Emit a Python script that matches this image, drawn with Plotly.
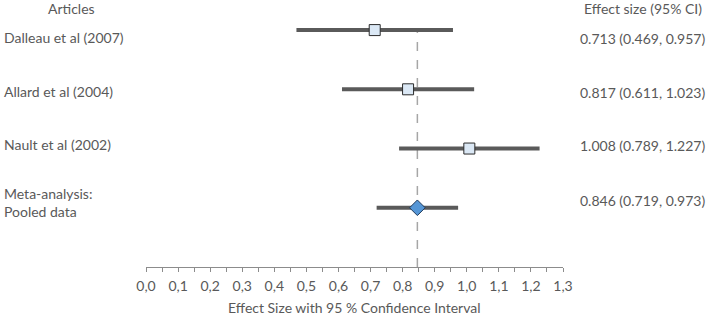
import plotly.graph_objects as go

articles = ["Dalleau et al (2007)", "Allard et al (2004)", "Nault et al (2002)"]
effects = [0.713, 0.817, 1.008]
lowers = [0.469, 0.611, 0.789]
uppers = [0.957, 1.023, 1.227]
pooled_label = "Meta-analysis:<br>Pooled data"
pooled_effect = 0.846
pooled_lower = 0.719
pooled_upper = 0.973
tick_vals = [round(i * 0.1, 1) for i in range(14)]
tick_text = [f"{v:.1f}".replace(".", ",") for v in tick_vals]

GREY = "#595959"
FONT = "Lato"
FS = 14

rows = [4, 3, 2]
pooled_row = 1

fig = go.Figure()
fig.add_trace(go.Scatter(
    x=effects, y=rows, mode="markers",
    marker=dict(symbol="square", size=11, color="#dbe8f5", line=dict(color="#2b2b2b", width=1)),
    error_x=dict(type="data", symmetric=False,
                 array=[u - e for u, e in zip(uppers, effects)],
                 arrayminus=[e - l for e, l in zip(effects, lowers)],
                 thickness=4, width=0, color="#5a5a5a"),
    showlegend=False, hoverinfo="skip"))
fig.add_trace(go.Scatter(
    x=[pooled_effect], y=[pooled_row], mode="markers",
    marker=dict(symbol="diamond", size=12, color="#5596d6", line=dict(color="#1f3a5c", width=1)),
    error_x=dict(type="data", symmetric=False,
                 array=[pooled_upper - pooled_effect],
                 arrayminus=[pooled_effect - pooled_lower],
                 thickness=4, width=0, color="#5a5a5a"),
    showlegend=False, hoverinfo="skip"))

fig.add_shape(type="line", xref="x", yref="y", x0=pooled_effect, x1=pooled_effect,
              y0=0, y1=4, line=dict(color="#a6a6a6", width=1.5, dash="dash"), layer="below")

T, B = 10, 50.3
H = 317
ph = H - T - B

def py(p):
    return (H - B - p) / ph

def px(p):
    return (p - 146) / 416.7

text_rows = [37, 91, 144]
for name, e, l, u, ty in zip(articles, effects, lowers, uppers, text_rows):
    fig.add_annotation(x=px(2), y=py(ty), xref="paper", yref="paper", text=name,
                       xanchor="left", yanchor="middle", showarrow=False,
                       font=dict(family=FONT, size=FS, color=GREY))
    fig.add_annotation(x=px(578), y=py(ty + 1), xref="paper", yref="paper",
                       text=f"{e:.3f} ({l:.3f}, {u:.3f})",
                       xanchor="left", yanchor="middle", showarrow=False,
                       font=dict(family=FONT, size=FS, color=GREY))
fig.add_annotation(x=px(2), y=py(202), xref="paper", yref="paper", text=pooled_label,
                   xanchor="left", yanchor="middle", showarrow=False, align="left",
                   font=dict(family=FONT, size=FS, color=GREY))
fig.add_annotation(x=px(578), y=py(200), xref="paper", yref="paper",
                   text=f"{pooled_effect:.3f} ({pooled_lower:.3f}, {pooled_upper:.3f})",
                   xanchor="left", yanchor="middle", showarrow=False,
                   font=dict(family=FONT, size=FS, color=GREY))
fig.add_annotation(x=px(72), y=py(9), xref="paper", yref="paper", text="Articles",
                   xanchor="center", yanchor="middle", showarrow=False,
                   font=dict(family=FONT, size=FS, color=GREY))
fig.add_annotation(x=px(643), y=py(9), xref="paper", yref="paper", text="Effect size (95% CI)",
                   xanchor="center", yanchor="middle", showarrow=False,
                   font=dict(family=FONT, size=FS, color=GREY))
fig.add_annotation(x=0.5, y=py(307.5), xref="paper", yref="paper",
                   text="Effect Size with 95 % Confidence Interval",
                   xanchor="center", yanchor="middle", showarrow=False,
                   font=dict(family=FONT, size=FS, color=GREY))

fig.update_layout(
    width=709, height=317,
    margin=dict(l=146, r=146.3, t=T, b=B, pad=0),
    paper_bgcolor="white", plot_bgcolor="white",
    font=dict(family=FONT, size=FS, color=GREY),
    xaxis=dict(range=[0, 1.3], tickvals=tick_vals, ticktext=tick_text,
               showgrid=False, zeroline=False, showline=True, linecolor="#8c8c8c", linewidth=1,
               ticks="outside", ticklen=4, tickcolor="#8c8c8c", ticklabelstandoff=2,
               minor=dict(tickvals=[round(0.05 + i * 0.1, 2) for i in range(13)],
                          ticks="outside", ticklen=4, tickcolor="#8c8c8c"),
               tickfont=dict(family=FONT, size=FS, color=GREY), fixedrange=True),
    yaxis=dict(range=[0, 4.339], visible=False, fixedrange=True),
)

fig.write_html("out.html", config={"displayModeBar": False},
               post_script="document.body.style.margin='0';document.body.style.overflow='hidden';")
